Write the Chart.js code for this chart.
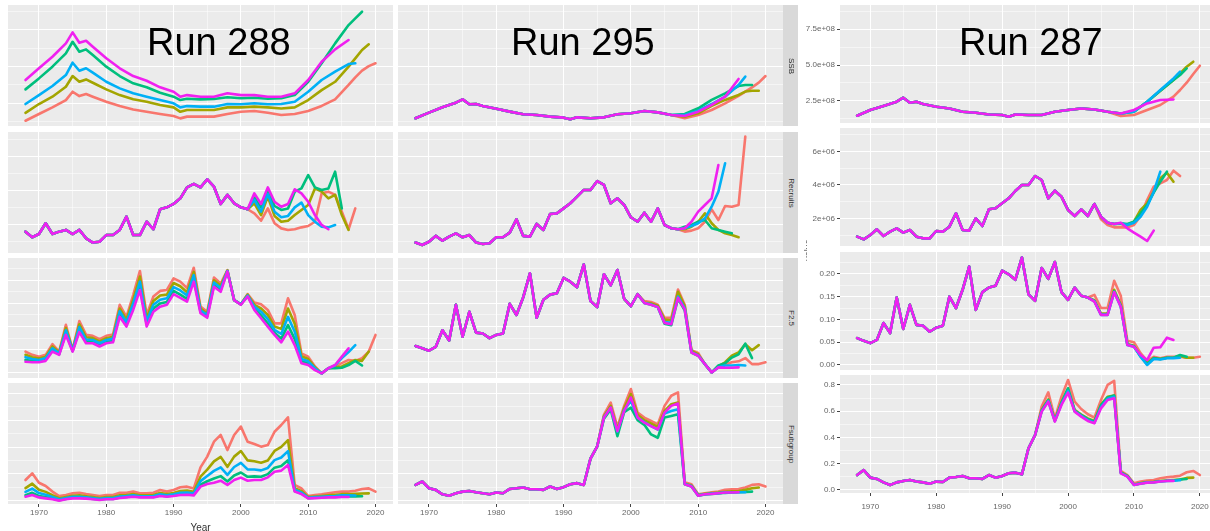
<!DOCTYPE html>
<html>
<head>
<meta charset="utf-8">
<script src="https://cdn.jsdelivr.net/npm/chart.js@4.4.1/dist/chart.umd.min.js"></script>
<style>
  body { margin: 0; width: 1210px; height: 531px; overflow: hidden; background: #fff; position: relative; font-family: "Liberation Sans", Arial, sans-serif; }
  canvas { position: absolute; }
  .run { position: absolute; font-size: 38px; line-height: 38px; color: #000; white-space: nowrap; }
  .strip { position: absolute; left: 783px; width: 15px; background: #d9d9d9; }
  .strip span { position: absolute; left: 50%; top: 50%; transform: translate(-50%, -50%) rotate(90deg); font-size: 8px; color: #333; white-space: nowrap; }
  .ytitle { position: absolute; left: 804px; top: 200px; width: 3px; height: 100px; overflow: hidden; }
  .ytitle span { position: absolute; left: 4px; top: 50%; transform: translate(-50%, -50%) rotate(-90deg); font-size: 9px; color: #555; }
</style>
</head>
<body>
<script>
const runs = ['Run 288', 'Run 295', 'Run 287']
const rowNames = ['SSB', 'Recruits', 'F2.5', 'Fsubgroup']

const years = [1968,1969,1970,1971,1972,1973,1974,1975,1976,1977,1978,1979,1980,1981,1982,1983,1984,1985,1986,1987,
  1988,1989,1990,1991,1992,1993,1994,1995,1996,1997,1998,1999,2000,2001,2002,2003,2004,2005,2006,2007,
  2008,2009,2010,2011,2012,2013,2014,2015,2016,2017,2018,2019,2020]
const ssbYears = [1968,1970,1972,1974,1975,1976,1977,1978,1980,1982,1984,1986,1988,1990,1991,1992,
  1994,1996,1998,2000,2002,2004,2006,2008,2010,2012,2014,2016,2017,2018,2019,2020]

const xTicks = [1970,1975,1980,1985,1990,1995,2000,2005,2010,2015,2020]
const xMajor = [1970,1980,1990,2000,2010,2020]

// y axis ticks per row (SSB in 1e8, Recruits in 1e6)
const yMin = [0.94, 0.34, -0.011, -0.023]
const yMax = [9.2, 7.42, 0.248, 0.876]
const yTicks = [
  [1.25,2.5,3.75,5,6.25,7.5,8.75],
  [1,2,3,4,5,6,7],
  [0,0.025,0.05,0.075,0.1,0.125,0.15,0.175,0.2,0.225],
  [0,0.1,0.2,0.3,0.4,0.5,0.6,0.7,0.8]
]
const yMajor = [[2.5,5,7.5],[2,4,6],[0,0.05,0.1,0.15,0.2],[0,0.2,0.4,0.6,0.8]]

const lineColors = { red: '#F8766D', olive: '#A3A500', green: '#00BF7D', blue: '#00B0F6', magenta: '#F020F0' }
const drawOrder = ['magenta', 'blue', 'green', 'olive', 'red']

// ---- Run 288 ----
const ssb288Red = [1.30,1.76,2.21,2.71,3.28,2.98,3.12,2.94,2.60,2.30,2.07,1.91,1.76,1.62,1.46,1.58,1.58,1.58,1.76,1.91,1.96,1.84,1.69,1.76,1.97,2.31,2.76,3.74,4.26,4.72,5.03,5.22]
const ssb288Olive = [1.84,2.44,2.94,3.62,4.35,3.96,4.12,3.89,3.44,3.05,2.76,2.60,2.37,2.21,1.91,2.03,2.03,2.03,2.21,2.21,2.26,2.21,2.14,2.21,2.71,3.39,3.96,4.99,5.56,6.13,6.52]
const ssb288Green = [3.44,4.19,4.99,5.90,6.69,6.01,6.17,5.78,4.99,4.35,3.85,3.58,3.21,2.94,2.71,2.80,2.76,2.78,2.90,2.83,2.87,2.80,2.83,3.05,3.96,5.22,6.58,7.83,8.29,8.74]
const ssb288Blue = [2.44,3.05,3.67,4.42,5.26,4.71,4.88,4.58,3.96,3.51,3.17,2.94,2.71,2.49,2.21,2.30,2.26,2.26,2.44,2.42,2.49,2.42,2.44,2.60,3.28,4.08,4.65,5.17,5.22]
const ssb288Magenta = [4.08,4.88,5.67,6.58,7.33,6.62,6.76,6.35,5.56,4.88,4.35,4.03,3.58,3.28,2.94,3.05,2.94,2.94,3.17,3.05,3.05,2.94,2.94,3.17,4.08,5.33,6.17,6.81]

const rec288Base = [1.59,1.26,1.45,2.08,1.45,1.59,1.69,1.45,1.69,1.20,0.95,1.00,1.39,1.39,1.69,2.47,1.39,1.39,2.17,1.73,
  2.90,3.01,3.21,3.54,4.18,4.38,4.18,4.65,4.22,3.21,3.74,3.25,3.01,2.90]
const rec288Red = [2.66,2.23,2.95,2.08,1.78,1.69,1.73,1.84,1.92,2.17,3.83,3.93,3.74,2.76,1.73,2.95]
const rec288Olive = [3.25,2.56,3.64,2.51,2.17,2.23,2.56,2.86,3.15,4.12,3.93,3.54,3.74,2.56,1.69]
const rec288Green = [3.64,3.01,3.99,3.09,2.86,2.95,3.93,4.12,4.90,4.18,4.03,4.12,5.10,2.95]
const rec288Blue = [3.44,2.76,3.79,2.76,2.43,2.51,3.01,3.29,2.56,2.17,1.88,1.84,1.98]
const rec288Magenta = [3.83,3.21,4.18,3.34,3.05,3.21,4.07,3.83,3.34,2.56,1.98,1.73]

const f288Red = [.046,.039,.035,.039,.062,.046,.104,.050,.112,.082,.080,.073,.080,.083,.147,.121,.168,.220,.125,.165,
  .177,.179,.204,.197,.183,.227,.143,.132,.206,.193,.222,.157,.148,.170,.152,.148,.136,.107,.107,.161,
  .125,.042,.035,.014,-.001,.010,.014,.021,.028,.026,.032,.046,.082]
const f288Olive = [.039,.034,.031,.035,.057,.044,.097,.049,.105,.077,.075,.068,.075,.078,.139,.115,.158,.208,.118,.155,
  .167,.169,.194,.187,.174,.218,.139,.128,.200,.188,.221,.157,.148,.169,.147,.139,.125,.100,.095,.139,
  .106,.036,.030,.012,-.001,.010,.012,.014,.021,.028,.026,.046]
const f288Green = [.028,.026,.025,.029,.049,.040,.086,.047,.093,.068,.067,.060,.067,.069,.126,.104,.142,.187,.105,.139,
  .150,.153,.177,.169,.160,.203,.132,.122,.190,.179,.220,.157,.148,.166,.139,.124,.107,.087,.074,.103,
  .073,.025,.021,.008,-.001,.010,.010,.011,.017,.026,.016]
const f288Blue = [.034,.030,.028,.032,.053,.042,.092,.048,.099,.072,.071,.064,.071,.074,.133,.109,.150,.197,.111,.147,
  .158,.161,.185,.178,.167,.211,.135,.125,.195,.183,.220,.157,.148,.167,.143,.132,.116,.093,.084,.121,
  .089,.030,.025,.010,-.001,.010,.016,.032,.045,.060]
const f288Magenta = [.024,.023,.023,.026,.046,.039,.082,.046,.088,.064,.064,.057,.064,.066,.121,.100,.136,.179,.100,.132,
  .143,.147,.170,.162,.154,.197,.129,.119,.186,.175,.219,.157,.147,.165,.136,.118,.100,.082,.066,.089,
  .060,.021,.017,.006,-.001,.010,.017,.035,.053]

const fs288Red = [.155,.205,.135,.111,.069,.036,.044,.056,.061,.051,.044,.036,.044,.044,.061,.061,.069,.056,.056,.061,
  .081,.069,.081,.101,.106,.093,.249,.329,.440,.490,.378,.490,.552,.440,.423,.403,.415,.514,.564,.621,
  .118,.093,.036,.044,.049,.056,.064,.069,.069,.076,.088,.093,.069]
const fs288Olive = [.095,.128,.083,.067,.042,.020,.029,.038,.041,.035,.029,.022,.029,.029,.042,.044,.051,.042,.042,.044,
  .059,.051,.059,.074,.077,.068,.180,.232,.294,.327,.253,.329,.370,.301,.294,.284,.300,.371,.401,.451,
  .094,.073,.028,.033,.037,.042,.046,.050,.050,.052,.055,.056]
const fs288Green = [.043,.060,.037,.028,.018,.005,.015,.023,.023,.020,.015,.010,.015,.015,.025,.030,.035,.029,.029,.030,
  .041,.035,.041,.050,.052,.046,.120,.146,.166,.184,.144,.189,.211,.179,.182,.180,.199,.247,.259,.302,
  .074,.055,.021,.023,.026,.029,.030,.033,.033,.034,.035]
const fs288Blue = [.067,.091,.058,.046,.029,.012,.021,.030,.031,.027,.021,.015,.021,.021,.033,.036,.042,.035,.035,.036,
  .049,.042,.049,.061,.063,.056,.147,.185,.223,.249,.193,.252,.283,.234,.233,.227,.245,.303,.323,.370,
  .083,.063,.024,.028,.031,.035,.037,.041,.041,.040]
const fs288Magenta = [.031,.044,.026,.019,.012,.002,.012,.019,.019,.017,.012,.007,.012,.012,.021,.026,.031,.026,.026,.026,
  .036,.031,.036,.044,.046,.041,.106,.126,.135,.150,.118,.155,.173,.150,.155,.155,.175,.217,.225,.267,
  .069,.051,.019,.021,.024,.026,.026,.029,.029]

// ---- Run 295 ----
const ssb295Base = [1.47,1.85,2.22,2.53,2.76,2.42,2.44,2.31,2.12,1.92,1.74,1.69,1.58,1.51,1.40,1.53,1.47,1.53,1.74,1.81,1.96,1.87,1.69]
const ssb295Red = [1.47,1.69,2.03,2.49,2.99,3.29,3.58,3.90,4.35]
const ssb295Olive = [1.58,1.81,2.31,2.72,3.06,3.29,3.35,3.35]
const ssb295Green = [1.76,2.15,2.72,3.17,3.67,3.74,3.74]
const ssb295Blue = [1.69,1.99,2.44,2.94,3.74,4.31]
const ssb295Magenta = [1.62,1.92,2.38,2.94,4.15]

const rec295Base = [0.95,0.81,1.00,1.34,1.06,1.30,1.49,1.26,1.39,0.95,0.87,0.91,1.26,1.26,1.53,2.31,1.34,1.30,2.04,1.69,
  2.62,2.66,2.95,3.25,3.64,4.03,4.03,4.55,4.32,3.25,3.54,3.15,2.43,2.17,2.70,2.17,2.95,1.98,1.79,1.73]
const rec295Red = [1.59,1.65,1.79,2.17,2.89,2.27,3.09,3.05,3.15,7.15]
const rec295Olive = [1.73,1.88,2.17,2.66,2.08,1.69,1.49,1.39,1.26]
const rec295Green = [1.88,1.98,2.17,2.27,1.79,1.69,1.59,1.49]
const rec295Blue = [1.79,1.92,2.08,2.37,3.05,3.93,5.59]
const rec295Magenta = [1.79,2.17,2.76,3.15,3.54,5.49]

const f295Base = [.058,.053,.048,.056,.092,.070,.147,.078,.132,.087,.085,.075,.082,.085,.149,.125,.163,.215,.119,.158,
  .169,.172,.205,.197,.185,.234,.155,.142,.213,.189,.222,.160,.144,.170]
const f295Red = [.155,.153,.147,.119,.119,.180,.147,.049,.043,.019,.001,.013,.018,.023,.025,.032,.019,.019,.023]
const f295Olive = [.152,.150,.145,.115,.113,.175,.144,.048,.040,.019,.001,.014,.023,.037,.044,.062,.049,.060]
const f295Green = [.151,.147,.142,.106,.103,.160,.135,.044,.037,.019,.001,.016,.021,.033,.040,.063,.032]
const f295Blue = [.151,.148,.142,.110,.108,.165,.140,.045,.038,.019,.001,.012,.016,.016,.017,.016]
const f295Magenta = [.151,.147,.142,.108,.105,.162,.137,.044,.037,.019,.001,.012,.011,.011,.012]

const fs295Base = [.119,.144,.094,.082,.049,.039,.057,.069,.074,.064,.057,.049,.062,.057,.089,.094,.099,.087,.087,.082,
  .107,.089,.102,.124,.132,.119,.314,.406]
const fs295Red = [.641,.731,.549,.706,.831,.656,.619,.594,.569,.706,.781,.806,.139,.124,.049,.057,.064,.069,.082,.087,.089,.099,.119,.124,.107]
const fs295Olive = [.630,.706,.530,.690,.793,.640,.600,.575,.550,.668,.718,.731,.130,.114,.044,.052,.058,.062,.068,.072,.074,.082,.094,.099]
const fs295Green = [.610,.680,.481,.660,.693,.600,.565,.494,.469,.620,.631,.643,.124,.107,.039,.048,.052,.056,.060,.062,.064,.066,.069]
const fs295Blue = [.622,.693,.515,.675,.743,.620,.585,.555,.530,.650,.668,.681,.126,.110,.041,.050,.054,.058,.062,.063,.064,.064]
const fs295Magenta = [.619,.693,.519,.668,.768,.619,.581,.556,.531,.656,.706,.723,.124,.107,.039,.049,.052,.057,.062,.062,.064]

// ---- Run 287 ----
const ssb287Base = [1.45,1.85,2.13,2.43,2.71,2.36,2.43,2.27,2.08,1.96,1.73,1.66,1.54,1.50,1.38,1.54,1.50,1.50,1.73,1.85,1.96,1.89,1.73]
const ssb287Red = [1.43,1.50,1.85,2.20,2.78,3.25,3.76,4.37,4.95]
const ssb287Olive = [1.61,1.73,2.43,3.20,3.95,4.41,4.88,5.23]
const ssb287Green = [1.61,1.73,2.43,3.20,3.95,4.30,4.76]
const ssb287Blue = [1.61,1.73,2.43,3.25,4.06,4.53]
const ssb287Magenta = [1.61,1.85,2.31,2.55,2.59]

const rec287Base = [0.90,0.74,1.00,1.34,0.94,1.20,1.40,1.14,1.30,0.90,0.80,0.80,1.24,1.20,1.50,2.30,1.30,1.26,2.00,1.54,
  2.54,2.60,2.90,3.20,3.64,4.00,4.00,4.54,4.30,3.20,3.66,3.30,2.50,2.14,2.54,2.14,2.86]
const rec287Red = [1.94,1.60,1.46,1.46,1.46,1.60,2.14,3.10,3.90,4.10,4.30,4.86,4.54]
const rec287Olive = [2.10,1.74,1.66,1.66,1.60,1.80,2.50,2.90,3.60,4.40,4.74,4.20]
const rec287Green = [2.10,1.74,1.66,1.70,1.66,1.80,2.30,2.80,3.54,4.20,4.80]
const rec287Blue = [2.10,1.74,1.66,1.70,1.60,1.74,2.10,2.70,3.60,4.80]
const rec287Magenta = [2.10,1.74,1.66,1.74,1.40,1.14,0.90,0.64,1.26]

const f287Base = [.059,.053,.048,.055,.092,.070,.148,.079,.132,.088,.086,.073,.082,.086,.150,.125,.165,.216,.121,.160,
  .170,.174,.207,.199,.187,.236,.155,.141,.213,.189,.226,.160,.143,.170,.152,.148]
const f287Red = [.154,.125,.125,.185,.152,.053,.050,.026,.009,.018,.015,.018,.018,.018,.016,.016,.018]
const f287Olive = [.142,.113,.113,.165,.132,.046,.042,.020,.004,.015,.013,.016,.016,.020,.016,.016]
const f287Green = [.140,.111,.111,.162,.130,.045,.041,.019,.002,.015,.013,.016,.016,.022,.018]
const f287Blue = [.140,.110,.110,.160,.128,.044,.040,.018,.000,.013,.012,.015,.015,.016]
const f287Magenta = [.139,.110,.110,.160,.128,.044,.040,.022,.011,.038,.039,.060,.055]

const fs287Base = [.114,.152,.094,.084,.058,.038,.058,.069,.076,.064,.058,.048,.064,.061,.094,.099,.107,.089,.089,.084,
  .114,.094,.107,.127,.132,.119,.318,.419]
const fs287Red = [.635,.744,.546,.711,.838,.673,.617,.577,.551,.686,.800,.831,.145,.114,.051,.064,.071,.076,.089,.097,.102,.109,.135,.145,.114]
const fs287Olive = [.610,.690,.530,.670,.770,.610,.575,.545,.525,.650,.710,.720,.135,.108,.042,.052,.060,.062,.068,.072,.076,.080,.092,.094]
const fs287Green = [.605,.685,.528,.662,.775,.605,.570,.540,.520,.645,.705,.719,.132,.106,.040,.050,.058,.060,.066,.070,.072,.080,.084]
const fs287Blue = [.600,.678,.525,.655,.755,.600,.565,.532,.512,.632,.695,.710,.130,.104,.039,.049,.057,.059,.064,.069,.070,.074]
const fs287Magenta = [.597,.673,.521,.648,.742,.597,.559,.526,.508,.622,.686,.699,.127,.102,.038,.048,.056,.058,.064,.069,.069]

// panels: [run][row]
const panelData = [
  [
    { yrs: ssbYears, base: [], red: ssb288Red, olive: ssb288Olive, green: ssb288Green, blue: ssb288Blue, magenta: ssb288Magenta },
    { yrs: years, base: rec288Base, red: rec288Red, olive: rec288Olive, green: rec288Green, blue: rec288Blue, magenta: rec288Magenta },
    { yrs: years, base: [], red: f288Red, olive: f288Olive, green: f288Green, blue: f288Blue, magenta: f288Magenta },
    { yrs: years, base: [], red: fs288Red, olive: fs288Olive, green: fs288Green, blue: fs288Blue, magenta: fs288Magenta }
  ],
  [
    { yrs: ssbYears, base: ssb295Base, red: ssb295Red, olive: ssb295Olive, green: ssb295Green, blue: ssb295Blue, magenta: ssb295Magenta },
    { yrs: years, base: rec295Base, red: rec295Red, olive: rec295Olive, green: rec295Green, blue: rec295Blue, magenta: rec295Magenta },
    { yrs: years, base: f295Base, red: f295Red, olive: f295Olive, green: f295Green, blue: f295Blue, magenta: f295Magenta },
    { yrs: years, base: fs295Base, red: fs295Red, olive: fs295Olive, green: fs295Green, blue: fs295Blue, magenta: fs295Magenta }
  ],
  [
    { yrs: ssbYears, base: ssb287Base, red: ssb287Red, olive: ssb287Olive, green: ssb287Green, blue: ssb287Blue, magenta: ssb287Magenta },
    { yrs: years, base: rec287Base, red: rec287Red, olive: rec287Olive, green: rec287Green, blue: rec287Blue, magenta: rec287Magenta },
    { yrs: years, base: f287Base, red: f287Red, olive: f287Olive, green: f287Green, blue: f287Blue, magenta: f287Magenta },
    { yrs: years, base: fs287Base, red: fs287Red, olive: fs287Olive, green: fs287Green, blue: fs287Blue, magenta: fs287Magenta }
  ]
]

// layout of the three pasted screenshots
const cols = [
  { left: 8, width: 385, tops: [5, 132, 258, 383], heights: [121, 121, 120, 121], yAxisW: 0, xAxisH: 30, xPad: 1, title: 'Year', runX: 147 },
  { left: 398, width: 385, tops: [5, 132, 258, 383], heights: [121, 121, 120, 121], yAxisW: 0, xAxisH: 16, xPad: 1, title: '', runX: 511 },
  { left: 840, width: 377, tops: [5, 128, 252, 375], heights: [118, 118, 118, 118], yAxisW: 42, xAxisH: 20, xPad: 6, title: '', runX: 959 }
]

const yLabel = [
  v => (v * 1e8).toExponential(1).replace('e+', 'e+0'),
  v => (v * 1e6).toExponential(0).replace('e+', 'e+0'),
  v => v.toFixed(2),
  v => v.toFixed(1)
]

const panelBg = {
  id: 'panelBg',
  beforeDraw(chart) {
    const a = chart.chartArea
    const ctx = chart.ctx
    ctx.save()
    ctx.fillStyle = '#EBEBEB'
    ctx.fillRect(a.left, a.top, a.right - a.left, a.bottom - a.top)
    ctx.restore()
  }
}

const font = { family: '"Liberation Sans", Arial, sans-serif', size: 8 }

function line(yrs, base, tail) {
  return base.concat(tail).map((v, i) => ({ x: yrs[i], y: v }))
}

function makePanel(c, col, r) {
  const bottom = r === 3
  const showY = col.yAxisW > 0
  const xh = bottom ? col.xAxisH : 0
  const p = panelData[c][r]

  const canvas = document.createElement('canvas')
  canvas.width = col.width + col.yAxisW
  canvas.height = col.heights[r] + xh
  canvas.style.left = (col.left - col.yAxisW) + 'px'
  canvas.style.top = col.tops[r] + 'px'
  document.body.appendChild(canvas)

  const datasets = drawOrder.map(k => ({
    data: line(p.yrs, p.base, p[k]),
    borderColor: lineColors[k],
    borderWidth: 2.6,
    pointRadius: 0,
    tension: 0,
    fill: false,
    borderJoinStyle: 'round',
    borderCapStyle: 'round'
  }))

  new Chart(canvas, {
    type: 'line',
    data: { datasets },
    plugins: [panelBg],
    options: {
      responsive: false,
      animation: false,
      events: [],
      layout: { padding: 0 },
      plugins: { legend: { display: false }, tooltip: { enabled: false } },
      scales: {
        x: {
          type: 'linear', min: 1965.4, max: 2022.6, bounds: 'data',
          afterBuildTicks: s => { s.ticks = xTicks.map(v => ({ value: v })) },
          afterFit: s => { s.height = xh; s.paddingLeft = 0; s.paddingRight = 0 },
          border: { display: false },
          grid: {
            color: ctx => xMajor.includes(ctx.tick.value) ? '#FFFFFF' : 'rgba(255,255,255,0.5)',
            lineWidth: 1,
            drawTicks: bottom,
            tickLength: 3,
            tickColor: ctx => xMajor.includes(ctx.tick.value) ? '#444' : 'rgba(0,0,0,0)'
          },
          ticks: {
            display: bottom, autoSkip: false, maxRotation: 0, padding: col.xPad,
            color: '#666', font,
            callback: v => xMajor.includes(v) ? String(v) : ''
          },
          title: {
            display: bottom && col.title !== '', text: col.title, color: '#333',
            font: { family: font.family, size: 10 }, padding: { top: 1, bottom: 0 }
          }
        },
        y: {
          type: 'linear', min: yMin[r], max: yMax[r], bounds: 'data',
          afterBuildTicks: s => { s.ticks = yTicks[r].map(v => ({ value: v })) },
          afterFit: s => { s.width = col.yAxisW; s.paddingTop = 0; s.paddingBottom = 0 },
          border: { display: false },
          grid: {
            color: ctx => yMajor[r].includes(ctx.tick.value) ? '#FFFFFF' : 'rgba(255,255,255,0.5)',
            lineWidth: 1,
            drawTicks: showY,
            tickLength: 3,
            tickColor: ctx => yMajor[r].includes(ctx.tick.value) ? '#444' : 'rgba(0,0,0,0)'
          },
          ticks: {
            display: showY, autoSkip: false, padding: 2, color: '#666', font,
            callback: v => yMajor[r].includes(v) ? yLabel[r](v) : ''
          }
        }
      }
    }
  })
}

cols.forEach((col, c) => {
  for (let r = 0; r < 4; r++) makePanel(c, col, r)
  const t = document.createElement('div')
  t.className = 'run'
  t.textContent = runs[c]
  t.style.left = col.runX + 'px'
  t.style.top = '23px'
  document.body.appendChild(t)
})

// facet strips visible on the middle screenshot
rowNames.forEach((name, r) => {
  const s = document.createElement('div')
  s.className = 'strip'
  s.style.top = cols[1].tops[r] + 'px'
  s.style.height = cols[1].heights[r] + 'px'
  const sp = document.createElement('span')
  sp.textContent = name
  s.appendChild(sp)
  document.body.appendChild(s)
})

// clipped y axis title of the right screenshot
const yt = document.createElement('div')
yt.className = 'ytitle'
const yts = document.createElement('span')
yts.textContent = 'value'
yt.appendChild(yts)
document.body.appendChild(yt)
</script>
</body>
</html>
